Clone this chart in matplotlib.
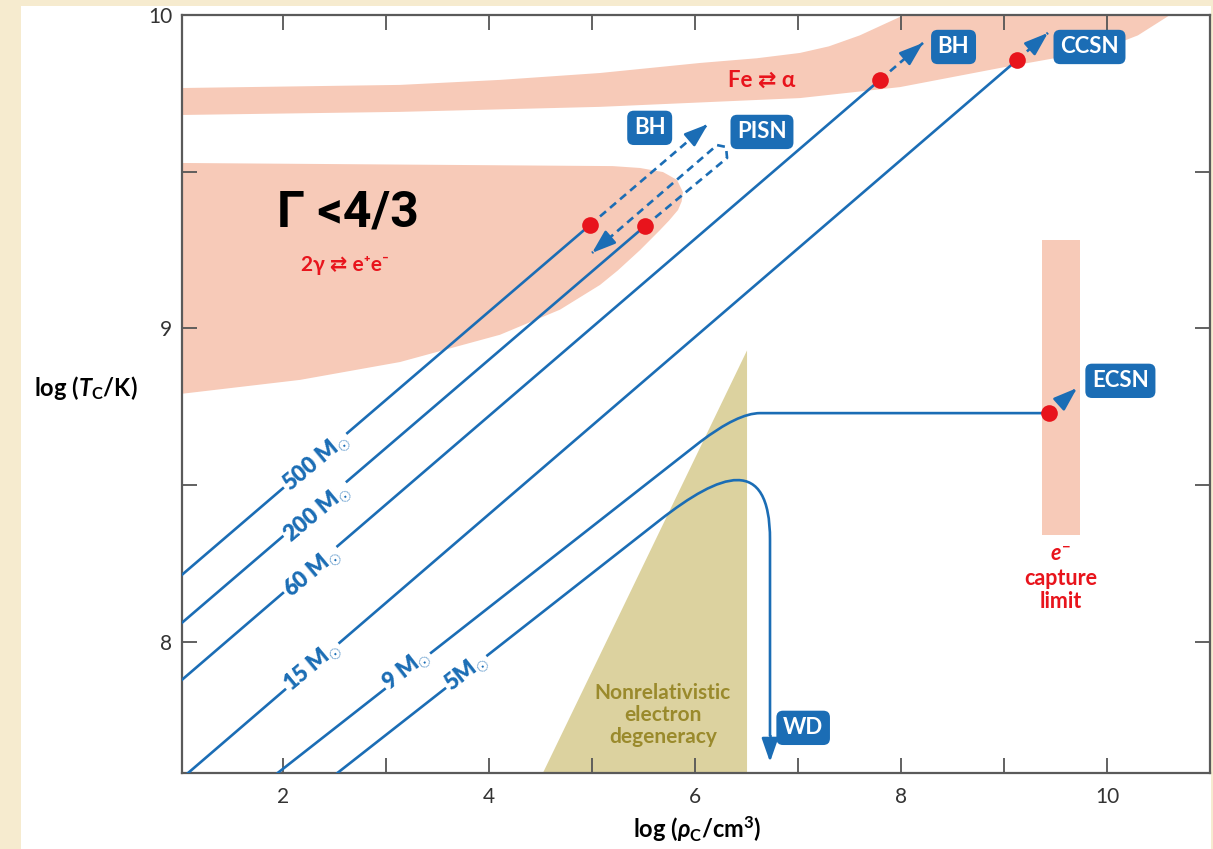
import matplotlib
matplotlib.use('Agg')
import numpy as np
import matplotlib.pyplot as plt
from matplotlib.patches import Polygon, Rectangle, PathPatch
from matplotlib.path import Path
from matplotlib.ticker import MultipleLocator

plt.rcParams['font.family'] = ['Lato', 'DejaVu Sans']
plt.rcParams['mathtext.fontset'] = 'custom'
plt.rcParams['mathtext.rm'] = 'Lato:bold'
plt.rcParams['mathtext.it'] = 'Lato:italic:bold'
plt.rcParams['mathtext.bf'] = 'Lato:bold'

BLUE = '#1b6db5'
RED = '#e8141c'
PINK = '#f7cab8'
KHAKI = '#dcd29f'
OLIVE = '#9a8a2c'

# Fe <-> alpha band (upper and lower edge)
fe_upper_x = [1.0, 3.136, 4.107, 5.078, 6.049, 6.6, 7.019, 7.3, 7.6, 7.990, 8.476]
fe_upper_y = [9.767, 9.777, 9.793, 9.815, 9.847, 9.862, 9.879, 9.900, 9.935, 9.994, 10.064]
fe_lower_x = [1.0, 3.136, 5.078, 7.019, 7.990, 8.961, 9.932, 10.3, 10.612, 10.81]
fe_lower_y = [9.681, 9.691, 9.707, 9.735, 9.770, 9.831, 9.888, 9.935, 10.0, 10.05]

# pair instability region, Gamma < 4/3
gam_upper_x = [1.0, 5.2, 5.466, 5.689, 5.825, 5.883]
gam_upper_y = [9.528, 9.518, 9.512, 9.499, 9.474, 9.435]
gam_lower_x = [5.870, 5.835, 5.75, 5.660, 5.466, 5.25, 5.078, 4.689, 4.107, 3.136, 2.165, 1.0]
gam_lower_y = [9.405, 9.378, 9.345, 9.314, 9.250, 9.185, 9.139, 9.060, 8.980, 8.893, 8.836, 8.791]

# electron capture band
ecap_x = [9.37, 9.74]
ecap_y = [8.341, 9.282]

# nonrelativistic degeneracy wedge
degen_x = [4.476, 6.505, 6.505]
degen_y = [7.55, 8.93, 7.55]

# straight tracks (log rho, log T)
tracks = {
    '500': ([1.0, 4.98], [8.209, 9.33]),
    '200': ([1.0, 5.515], [8.056, 9.327]),
    '60': ([1.0, 7.796], [7.874, 9.793]),
    '15': ([1.0, 9.126], [7.56, 9.856]),
}
# 9 Msun track: diagonal, bend, horizontal to e- capture
m9_x = [1.94, 6.049, 6.417, 6.631, 9.437]
m9_y = [7.58, 8.638, 8.730, 8.730, 8.730]
# 5 Msun track: diagonal, turnover, down to WD
m5_x = [2.52, 5.66, 6.243, 6.728, 6.728, 6.728]
m5_y = [7.58, 8.389, 8.539, 8.600, 8.325, 7.70]
wd_tip = (6.728, 7.617)

# track labels
lab_text = ['500 M$_{\\odot}$', '200 M$_{\\odot}$', '60 M$_{\\odot}$',
            '15 M$_{\\odot}$', '9 M$_{\\odot}$', '5M$_{\\odot}$']
lab_x = [2.330, 2.340, 2.291, 2.291, 3.204, 3.786]
lab_y = [8.571, 8.411, 8.220, 7.920, 7.911, 7.901]
lab_rot = [40, 40, 40, 40, 38, 38]

# end points (red dots)
dot_x = [4.98, 5.515, 7.796, 9.126, 9.437]
dot_y = [9.33, 9.327, 9.793, 9.856, 8.730]

# dashed arrows: path -> tip
dash_paths = [
    ([4.98, 6.126], [9.33, 9.652]),
    ([7.796, 8.214], [9.793, 9.911]),
    ([9.126, 9.427], [9.856, 9.943]),
    ([9.437, 9.709], [8.730, 8.810]),
    # PISN hairpin
    ([5.515, 6.311, 6.301, 6.214, 5.0], [9.327, 9.544, 9.579, 9.585, 9.241]),
]

# fates
fate_text = ['BH', 'PISN', 'BH', 'CCSN', 'ECSN', 'WD']
fate_x = [5.56, 6.65, 8.51, 9.83, 10.13, 7.05]
fate_y = [9.64, 9.627, 9.898, 9.898, 8.833, 7.726]

fig = plt.figure(figsize=(12.13, 8.49), dpi=100, facecolor='#f6ebcf')
fig.add_artist(Rectangle((21 / 1213, 0), 1190 / 1213, 1 - 6 / 849,
                         transform=fig.transFigure, fc='white', ec='none', zorder=-1))
ax = fig.add_axes([182 / 1213, 1 - 773 / 849, 1028 / 1213, 758 / 849])
ax.set_xlim(1.019, 11.0)
ax.set_ylim(7.582, 10.0)

# shaded regions
ax.add_patch(Polygon(list(zip(fe_upper_x, fe_upper_y)) + list(zip(fe_lower_x[::-1], fe_lower_y[::-1])),
                     closed=True, fc=PINK, ec='none', zorder=1))
ax.add_patch(Polygon(list(zip(gam_upper_x, gam_upper_y)) + list(zip(gam_lower_x, gam_lower_y)),
                     closed=True, fc=PINK, ec='none', zorder=1))
ax.add_patch(Rectangle((ecap_x[0], ecap_y[0]), ecap_x[1] - ecap_x[0], ecap_y[1] - ecap_y[0],
                       fc=PINK, ec='none', zorder=1))
ax.add_patch(Polygon(list(zip(degen_x, degen_y)), closed=True, fc=KHAKI, ec='none', zorder=1))

lw = 1.9
head = dict(arrowstyle='-|>,head_length=0.8,head_width=0.28', color=BLUE,
            lw=lw, mutation_scale=18, shrinkA=0, shrinkB=0)


def arrow_head(tip, prev, back=6):
    # solid head at tip, pointing away from prev
    p0 = ax.transData.transform(prev)
    p1 = ax.transData.transform(tip)
    d = (p1 - p0) / np.hypot(*(p1 - p0))
    ax.annotate('', xy=tip, xytext=(-d[0] * back, -d[1] * back), textcoords='offset points',
                arrowprops=head, zorder=4)


for name, (tx, ty) in tracks.items():
    ax.plot(tx, ty, color=BLUE, lw=lw, zorder=3, solid_capstyle='butt')

p9 = Path(list(zip(m9_x, m9_y)),
          [Path.MOVETO, Path.LINETO, Path.CURVE3, Path.CURVE3, Path.LINETO])
ax.add_patch(PathPatch(p9, fill=False, ec=BLUE, lw=lw, zorder=3))
p5 = Path(list(zip(m5_x, m5_y)),
          [Path.MOVETO, Path.LINETO, Path.CURVE4, Path.CURVE4, Path.CURVE4, Path.LINETO])
ax.add_patch(PathPatch(p5, fill=False, ec=BLUE, lw=lw, zorder=3))
ax.plot([m5_x[-1], wd_tip[0]], [m5_y[-1], wd_tip[1] + 0.03], color=BLUE, lw=lw, zorder=3)
arrow_head(wd_tip, (m5_x[-1], m5_y[-1]), back=8)

for t, x, y, r in zip(lab_text, lab_x, lab_y, lab_rot):
    ax.text(x, y, t, rotation=r, color=BLUE, fontsize=16, fontweight='heavy',
            ha='center', va='center', rotation_mode='anchor', zorder=4,
            bbox=dict(boxstyle='square,pad=0.08', fc='white', ec='none'))

dash = (0, (3, 2))
for px_, py_ in dash_paths:
    ax.plot(px_, py_, color=BLUE, lw=lw, ls=dash, zorder=4)
    arrow_head((px_[-1], py_[-1]), (px_[-2], py_[-2]))

ax.plot(dot_x, dot_y, 'o', color=RED, ms=12, mec='none', zorder=5)

for t, x, y in zip(fate_text, fate_x, fate_y):
    ax.text(x, y, t, color='white', fontsize=16, fontweight='bold', ha='center', va='center',
            zorder=6, bbox=dict(boxstyle='round,pad=0.3,rounding_size=0.3', fc=BLUE, ec='none'))

# region labels
ax.text(6.65, 9.793, 'Fe \u21c4 \u03b1', color=RED, fontsize=16, fontweight='bold',
        ha='center', va='center', zorder=5)
ax.text(2.631, 9.368, '\u0393 <4/3', family=['Roboto', 'DejaVu Sans'], fontsize=36,
        fontweight='bold', color='black', ha='center', va='center', zorder=5)
ax.text(2.60, 9.203, '2\u03b3 \u21c4 e\u207ae\u207b', family=['Lato', 'DejaVu Sans'], color=RED,
        fontsize=15, fontweight='bold', ha='center', va='center', zorder=5)
ax.text(9.553, 8.204, '$e^{-}$\ncapture\nlimit', color=RED, fontsize=15.5, fontweight='bold',
        ha='center', va='center', linespacing=1.15, zorder=5)
ax.text(5.689, 7.767, 'Nonrelativistic\nelectron\ndegeneracy', color=OLIVE, fontsize=15,
        fontweight='bold', ha='center', va='center', linespacing=1.1, zorder=5)

# axes styling
ax.set_xticks([2, 4, 6, 8, 10])
ax.xaxis.set_minor_locator(MultipleLocator(1))
ax.yaxis.set_major_locator(MultipleLocator(1))
ax.yaxis.set_minor_locator(MultipleLocator(0.5))
ax.tick_params(which='both', direction='in', length=11, width=1.3, color='#555555',
               top=True, right=True)
ax.tick_params(axis='x', labelsize=15, labelcolor='#333333', pad=10)
ax.tick_params(axis='y', labelsize=15, labelcolor='#333333', pad=7)
for sp in ax.spines.values():
    sp.set_color('#5a5a5a')
    sp.set_linewidth(1.6)

ax.set_xlabel('log ($\\rho_{\\mathrm{C}}$/cm$^{3}$)', fontsize=17, fontweight='bold')
ax.xaxis.set_label_coords(0.501, -0.055)
ax.set_ylabel('log ($T_{\\mathrm{C}}$/K)', fontsize=17, fontweight='bold', rotation=0,
              ha='center', va='center')
ax.yaxis.set_label_coords(-0.094, 0.508)

fig.savefig('out.png', dpi=100, facecolor=fig.get_facecolor())
